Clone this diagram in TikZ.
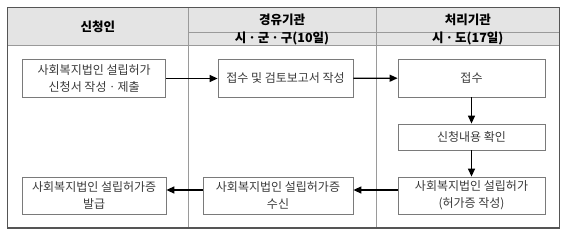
\documentclass[tikz,border=0pt]{standalone}
\usepackage{fontspec}
\setmainfont{Noto Sans CJK KR}
\usepackage{xcolor}
\usepackage{tikz}
\usetikzlibrary{positioning,arrows.meta}
\definecolor{headfill}{HTML}{E4E4E4}
\definecolor{framegray}{HTML}{555555}
\definecolor{linegray}{HTML}{9A9A9A}
\definecolor{boxgray}{HTML}{7A7A7A}
\definecolor{textgray}{HTML}{3A3A3A}

\begin{document}
\begin{tikzpicture}[x=1pt,y=-1pt,
  procbox/.style={draw=boxgray,line width=0.8pt,align=center,text=textgray,inner sep=1pt,
    font=\fontsize{12}{17}\selectfont},
  headtext/.style={font=\fontsize{12.5}{14}\selectfont\bfseries},
  flow/.style={-{Triangle[length=8pt,width=7pt]},line width=1.3pt}]
  \useasboundingbox (0,0) rectangle (570,238);
  % table
  \fill[headfill] (7.5,7.5) rectangle (559.5,45);
  \draw[linegray,line width=0.8pt] (188,7.5) -- (188,228);
  \draw[linegray,line width=0.8pt] (376,7.5) -- (376,228);
  \draw[linegray,line width=0.8pt] (188,32) -- (559.5,32);
  \draw[linegray,line width=0.8pt] (7.5,45) -- (559.5,45);
  \draw[framegray,line width=1.6pt] (7.5,7.5) rectangle (559.5,228);
  % header
  \node[headtext] (applicant) at (97.75,26.5) {신청인};
  \node[headtext] (relay) at (282,19.5) {경유기관};
  \node[headtext] (relaysub) at (282,38.5) {시ㆍ군ㆍ구(10일)};
  \node[headtext] (handler) at (467.75,19.5) {처리기관};
  \node[headtext] (handlersub) at (467.75,38.5) {시ㆍ도(17일)};
  % boxes
  \node[procbox,minimum width=143pt,minimum height=38.5pt] (apply) at (94.2,78.5) {사회복지법인 설립허가\\신청서 작성ㆍ제출};
  \node[procbox,inner xsep=0pt,minimum width=135pt,minimum height=38.5pt] (review) at (285.5,78.5) {접수 및 검토보고서 작성};
  \node[procbox,minimum width=147pt,minimum height=38pt] (receive) at (471.5,78) {접수};
  \node[procbox,minimum width=147pt,minimum height=26pt] (check) at (471.5,137) {신청내용 확인};
  \node[procbox,minimum width=147pt,minimum height=37pt] (permit) at (471.5,195.5) {사회복지법인 설립허가\\(허가증 작성)};
  \node[procbox,minimum width=150pt,minimum height=37pt] (getcert) at (278,195.5) {사회복지법인 설립허가증\\수신};
  \node[procbox,minimum width=143.5pt,minimum height=37pt] (issue) at (94.2,195.5) {사회복지법인 설립허가증\\발급};
  % arrows
  \draw[flow] (apply) -- (review);
  \draw[flow] (review) -- (receive);
  \draw[flow] (receive) -- (check);
  \draw[flow] (check) -- (permit);
  \draw[flow] ([yshift=5.5pt]permit.west) -- ([yshift=5.5pt]getcert.east);
  \draw[flow] ([yshift=5.5pt]getcert.west) -- ([yshift=5.5pt]issue.east);
\end{tikzpicture}
\end{document}
